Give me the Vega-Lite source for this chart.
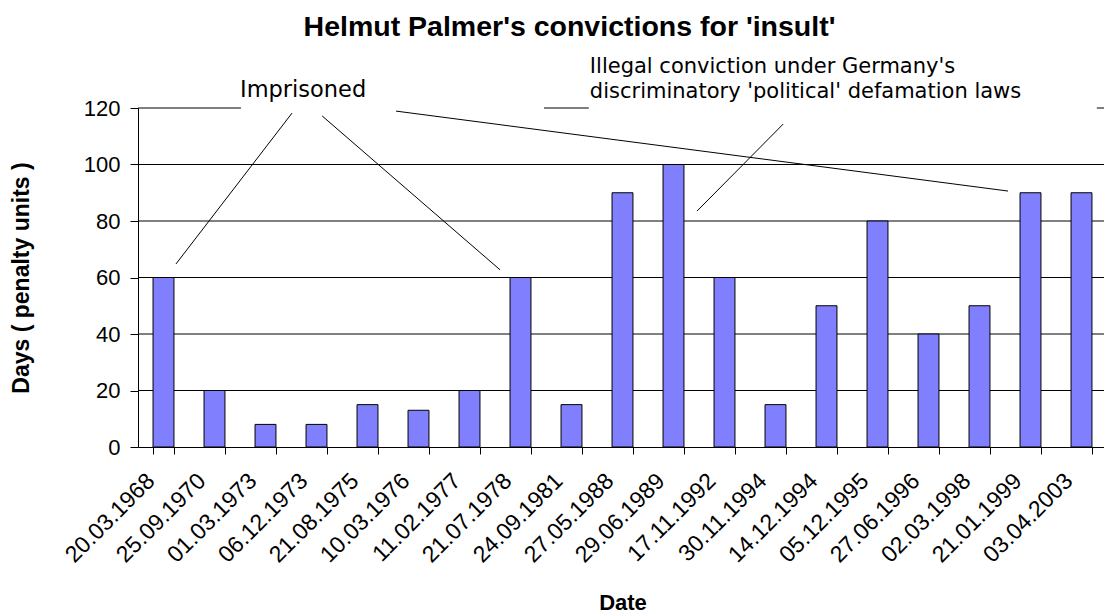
{
  "$schema": "https://vega.github.io/schema/vega-lite/v6.json",
  "width": 969,
  "height": 339,
  "autosize": {"type": "none"},
  "padding": {"left": 138, "top": 108, "right": 0, "bottom": 168},
  "background": "white",
  "config": {"view": {"stroke": null}, "font": "Liberation Sans"},
  "title": {
    "text": "Helmut Palmer's convictions for 'insult'",
    "fontSize": 28.5,
    "fontWeight": "bold",
    "font": "Liberation Sans",
    "color": "black",
    "anchor": "middle",
    "frame": "group",
    "dx": -53,
    "offset": 14
  },
  "datasets": {
    "bars": [
      {"date": "20.03.1968", "days": 60},
      {"date": "25.09.1970", "days": 20},
      {"date": "01.03.1973", "days": 8},
      {"date": "06.12.1973", "days": 8},
      {"date": "21.08.1975", "days": 15},
      {"date": "10.03.1976", "days": 13},
      {"date": "11.02.1977", "days": 20},
      {"date": "21.07.1978", "days": 60},
      {"date": "24.09.1981", "days": 15},
      {"date": "27.05.1988", "days": 90},
      {"date": "29.06.1989", "days": 100},
      {"date": "17.11.1992", "days": 60},
      {"date": "30.11.1994", "days": 15},
      {"date": "14.12.1994", "days": 50},
      {"date": "05.12.1995", "days": 80},
      {"date": "27.06.1996", "days": 40},
      {"date": "02.03.1998", "days": 50},
      {"date": "21.01.1999", "days": 90},
      {"date": "03.04.2003", "days": 90}
    ],
    "grid": [{"days": 20}, {"days": 40}, {"days": 60}, {"days": 80}, {"days": 100}],
    "lines": [
      {"x1": 0, "y1": 120, "x2": 2.02, "y2": 120},
      {"x1": 7.96, "y1": 120, "x2": 8.84, "y2": 120},
      {"x1": 18.8, "y1": 120, "x2": 19, "y2": 120},
      {"x1": 3.02, "y1": 118.2, "x2": 0.745, "y2": 64.8},
      {"x1": 3.61, "y1": 117.2, "x2": 7.1, "y2": 62.7},
      {"x1": 5.06, "y1": 118.9, "x2": 17.06, "y2": 90.6},
      {"x1": 12.65, "y1": 114.3, "x2": 10.96, "y2": 83.5}
    ],
    "note1": [
      {"u": 2.0, "d": 123.9, "t": "Imprisoned"}
    ],
    "note2": [
      {"u": 8.86, "d": 132.4, "t": "Illegal conviction under Germany's\ndiscriminatory 'political' defamation laws"}
    ]
  },
  "layer": [
    {
      "data": {"name": "grid"},
      "mark": {"type": "rule", "color": "black", "strokeWidth": 1},
      "encoding": {
        "y": {"field": "days", "type": "quantitative", "scale": {"domain": [0, 120], "nice": false}, "axis": null}
      }
    },
    {
      "data": {"name": "bars"},
      "mark": {"type": "bar", "fill": "#8080FF", "stroke": "black", "strokeWidth": 1},
      "encoding": {
        "x": {
          "field": "date",
          "type": "nominal",
          "sort": null,
          "scale": {"paddingInner": 0.59, "paddingOuter": 0.295},
          "axis": {
            "title": "Date",
            "labelAngle": -45,
            "labelAlign": "right",
            "labelBaseline": "middle",
            "labelFontSize": 23,
            "labelColor": "black",
            "labelPadding": 23,
            "labelOffset": -13,
            "labelOverlap": false,
            "tickBand": "extent",
            "tickSize": 7,
            "tickColor": "black",
            "domainColor": "black",
            "grid": false,
            "titleFontSize": 22,
            "titleFontWeight": "bold",
            "titleColor": "black",
            "titleY": 162,
            "titleBaseline": "alphabetic"
          }
        },
        "y": {
          "field": "days",
          "type": "quantitative",
          "scale": {"domain": [0, 120], "nice": false},
          "axis": {
            "title": "Days ( penalty units )",
            "values": [0, 20, 40, 60, 80, 100, 120],
            "grid": false,
            "tickSize": 8,
            "tickColor": "black",
            "domainColor": "black",
            "labelFontSize": 22,
            "labelColor": "black",
            "labelPadding": 10,
            "titleFontSize": 23,
            "titleFontWeight": "bold",
            "titleColor": "black",
            "titleX": -109.5,
            "titleBaseline": "alphabetic"
          }
        }
      }
    },
    {
      "data": {"name": "lines"},
      "mark": {"type": "rule", "color": "black", "strokeWidth": 1},
      "encoding": {
        "x": {"field": "x1", "type": "quantitative", "scale": {"domain": [0, 19], "nice": false, "zero": false}, "axis": null},
        "x2": {"field": "x2"},
        "y": {"field": "y1", "type": "quantitative", "scale": {"domain": [0, 120], "nice": false}, "axis": null},
        "y2": {"field": "y2"}
      }
    },
    {
      "data": {"name": "note1"},
      "mark": {"type": "text", "align": "left", "baseline": "alphabetic", "fontSize": 22.5, "color": "black", "font": "DejaVu Sans"},
      "encoding": {
        "x": {"field": "u", "type": "quantitative", "scale": {"domain": [0, 19], "nice": false, "zero": false}, "axis": null},
        "y": {"field": "d", "type": "quantitative", "scale": {"domain": [0, 120], "nice": false}, "axis": null},
        "text": {"field": "t"}
      }
    },
    {
      "data": {"name": "note2"},
      "mark": {"type": "text", "align": "left", "baseline": "alphabetic", "fontSize": 21, "lineBreak": "\n", "lineHeight": 25, "color": "black", "font": "DejaVu Sans"},
      "encoding": {
        "x": {"field": "u", "type": "quantitative", "scale": {"domain": [0, 19], "nice": false, "zero": false}, "axis": null},
        "y": {"field": "d", "type": "quantitative", "scale": {"domain": [0, 120], "nice": false}, "axis": null},
        "text": {"field": "t"}
      }
    }
  ],
  "resolve": {"scale": {"x": "independent"}, "axis": {"x": "independent", "y": "independent"}}
}
